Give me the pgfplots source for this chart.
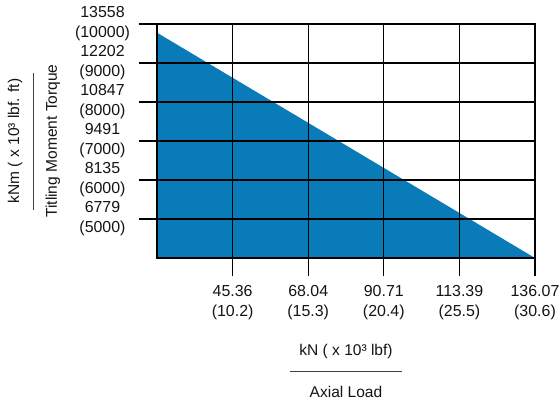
\documentclass[border=0pt]{standalone}
\usepackage{fontspec}
\setmainfont{Liberation Sans}
\usepackage{pgfplots}
\pgfplotsset{compat=1.18}
\definecolor{fillblue}{RGB}{8,123,184}
\definecolor{txt}{RGB}{20,20,20}
\begin{document}
\begin{tikzpicture}[x=1bp,y=1bp]
\useasboundingbox (-157,-142) rectangle (403,258);
\begin{axis}[
  at={(0,0)}, anchor=south west,
  scale only axis, width=378bp, height=234bp,
  xmin=22.68, xmax=136.07, ymin=5423.2, ymax=13558,
  scaled ticks=false,
  xtick={45.36,68.04,90.71,113.39,136.07},
  xticklabels={{45.36\\(10.2)},{68.04\\(15.3)},{90.71\\(20.4)},{113.39\\(25.5)},{136.07\\(30.6)}},
  ytick={6779,8135,9491,10847,12202,13558},
  yticklabels={{6779\\(5000)},{8135\\(6000)},{9491\\(7000)},{10847\\(8000)},{12202\\(9000)},{13558\\(10000)}},
  grid=major, major grid style={black, line width=1.3bp},
  axis line style={black, line width=1.3bp},
  tick style={black, line width=1.3bp},
  major tick length=18bp, tick align=outside,
  xtick pos=lower, ytick pos=left,
  axis on top,
  tick label style={font=\fontsize{16}{20}\selectfont, text=txt, align=center},
  xticklabel style={inner sep=0pt, anchor=north, yshift=-9bp},
  yticklabel style={text width=58bp, inner sep=0pt, anchor=east, xshift=-7.3bp},
  label style={font=\fontsize{15.6}{21}\selectfont, text=txt, align=center},
  xlabel={kN ( x 10³ lbf)\\\textcolor{black!75}{\rule[4bp]{112bp}{0.9bp}}\\Axial Load},
  xlabel style={at={(axis description cs:0.5,-0.482)}, anchor=center},
  ylabel={kNm ( x 10³ lbf. ft)\\\textcolor{black!75}{\rule[4bp]{137bp}{0.9bp}}\\Titling Moment Torque},
  ylabel style={at={(axis description cs:-0.3254,0.5)}, anchor=center, font=\fontsize{15.6}{19}\selectfont},
]
\addplot[fill=fillblue, draw=none] coordinates {(22.68,13256) (136.07,5423.2) (22.68,5423.2) (22.68,13256)};
\end{axis}
\end{tikzpicture}
\end{document}
